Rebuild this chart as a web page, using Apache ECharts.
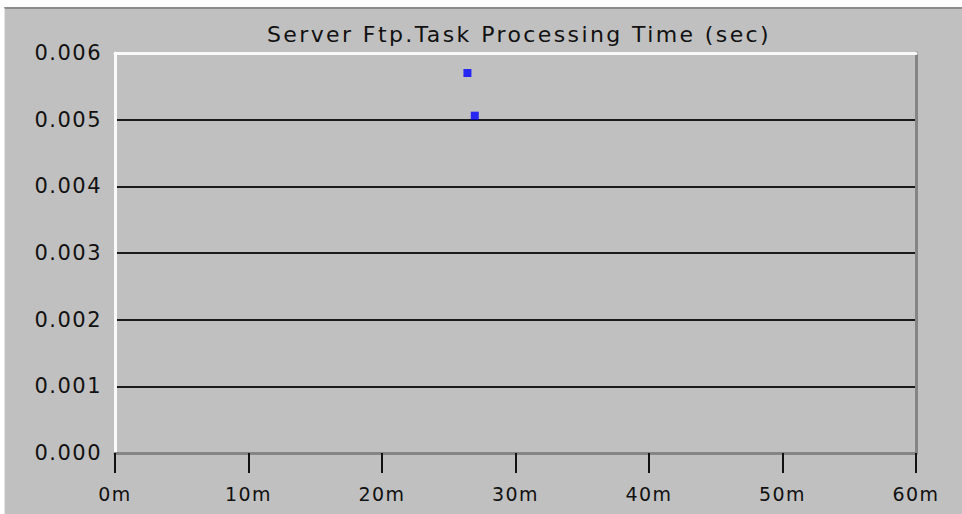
<!DOCTYPE html>
<html>
<head>
<meta charset="utf-8">
<script src="https://cdn.jsdelivr.net/npm/echarts@6/dist/echarts.min.js"></script>
<style>
  body { margin: 0; background: #fff; }
  .panel {
    position: absolute; left: 4px; top: 7px; width: 958px; height: 507px;
    background: #c0c0c0; border-top: 2px solid #8c8c8c; border-left: 1px solid #e6e6e6;
    box-sizing: border-box;
  }
  #chart { position: absolute; left: 0; top: 0; width: 962px; height: 514px; }
  #chart text { letter-spacing: 1.5px; }
  #chart text[style*="22px"] { letter-spacing: 2.4px; }
</style>
</head>
<body>
<div class="panel"></div>
<div id="chart"></div>
<script>
// values
const titleText = "Server Ftp.Task Processing Time (sec)"
const xTicks = [0, 10, 20, 30, 40, 50, 60]   // minutes
const yTicks = [0, 0.001, 0.002, 0.003, 0.004, 0.005, 0.006]
const pointMinutes = [26.4, 26.95]
const pointSeconds = [0.0057, 0.00506]

let ins = echarts.init(document.getElementById("chart"), null, { renderer: "svg" })

let pts = pointMinutes.map((m, i) => [m, pointSeconds[i]])
let font = "DejaVu Sans"

ins.setOption({
  animation: false,
  backgroundColor: "transparent",
  title: {
    text: titleText,
    left: 514,
    top: 18,
    textAlign: "center",
    textStyle: { fontFamily: font, fontSize: 22, fontWeight: "normal", color: "#111" }
  },
  grid: { left: 115, right: 46, top: 53, bottom: 61, containLabel: false },
  xAxis: [{
    type: "value",
    min: xTicks[0],
    max: xTicks[xTicks.length - 1],
    interval: 10,
    axisLine: { onZero: false, lineStyle: { color: "#858585", width: 3 } },
    axisTick: { length: 20, lineStyle: { color: "#111", width: 2 } },
    axisLabel: {
      margin: 31,
      fontFamily: font,
      fontSize: 19,
      color: "#111",
      formatter: v => v + "m"
    },
    splitLine: { show: false }
  }, {
    type: "value",
    position: "top",
    min: xTicks[0],
    max: xTicks[xTicks.length - 1],
    axisLine: { show: true, onZero: false, lineStyle: { color: "#fafafa", width: 3 } },
    axisTick: { show: false },
    axisLabel: { show: false },
    splitLine: { show: false }
  }],
  yAxis: [{
    type: "value",
    min: yTicks[0],
    max: yTicks[yTicks.length - 1],
    interval: 0.001,
    axisLine: { show: true, onZero: false, lineStyle: { color: "#fafafa", width: 3 } },
    axisTick: { show: false },
    axisLabel: {
      margin: 13,
      fontFamily: font,
      fontSize: 21,
      color: "#111",
      formatter: v => v.toFixed(3)
    },
    splitLine: { lineStyle: { color: "#1a1a1a", width: 2 } }
  }, {
    type: "value",
    position: "right",
    min: yTicks[0],
    max: yTicks[yTicks.length - 1],
    interval: 0.001,
    axisLine: { show: true, onZero: false, lineStyle: { color: "#858585", width: 3 } },
    axisTick: { show: false },
    axisLabel: { show: false },
    splitLine: { show: false }
  }],
  series: [{
    type: "scatter",
    data: pts,
    symbol: "rect",
    symbolSize: [8, 8],
    itemStyle: { color: "#0000ff" }
  }]
})
</script>
</body>
</html>
